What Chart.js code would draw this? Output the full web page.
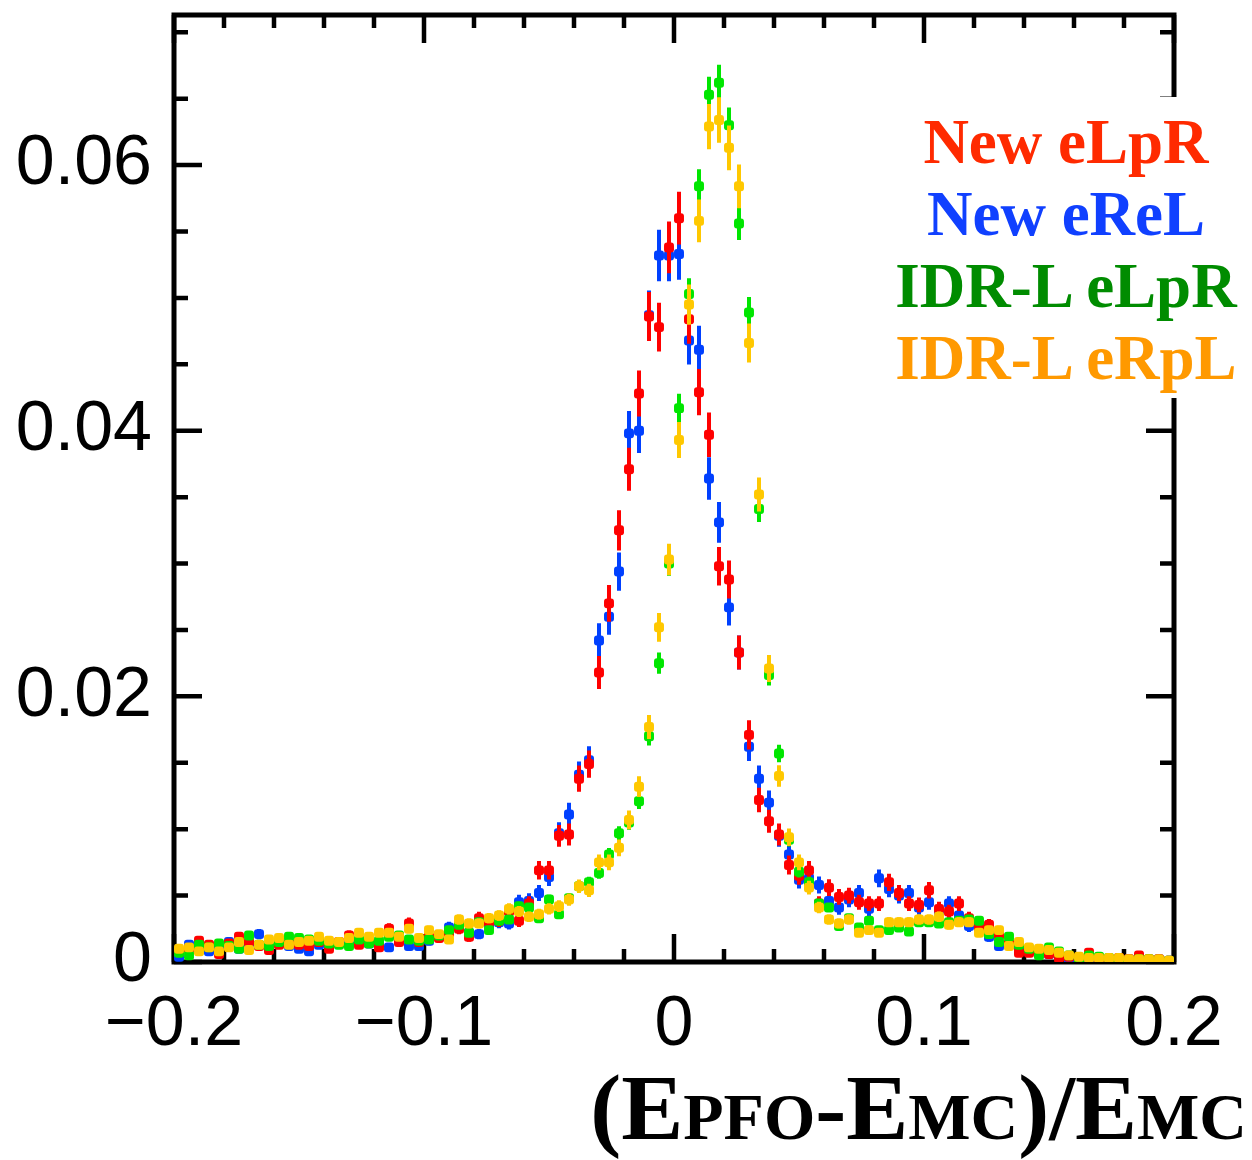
<!DOCTYPE html>
<html>
<head>
<meta charset="utf-8">
<script src="https://cdn.jsdelivr.net/npm/chart.js@4.4.1/dist/chart.umd.min.js"></script>
<style>
html,body{margin:0;padding:0;background:#fff;}
#wrap{position:relative;width:1252px;height:1160px;overflow:hidden;}
#legend{position:absolute;left:880px;top:97px;width:372px;height:301px;background:#fff;text-align:center;
  font-family:'Liberation Serif','Times New Roman',serif;font-weight:bold;font-size:63px;line-height:72px;
  padding-top:9px;box-sizing:border-box;white-space:nowrap;}
#xtitle{position:absolute;right:5px;top:1061px;font-family:'Liberation Serif','Times New Roman',serif;
  font-weight:bold;font-size:93px;line-height:93px;white-space:nowrap;color:#000;}
#xtitle .s{font-size:66px;}
</style>
</head>
<body>
<div id="wrap">
<canvas id="c" width="1252" height="1160"></canvas>
<div id="legend"></div>
<div id="xtitle">(E<span class="s">PFO</span>-E<span class="s">MC</span>)/E<span class="s">MC</span></div>
</div>
<script>
// ---- data ----
const binCenters = [
-0.198,-0.194,-0.190,-0.186,-0.182,-0.178,-0.174,-0.170,-0.166,-0.162,
-0.158,-0.154,-0.150,-0.146,-0.142,-0.138,-0.134,-0.130,-0.126,-0.122,
-0.118,-0.114,-0.110,-0.106,-0.102,-0.098,-0.094,-0.090,-0.086,-0.082,
-0.078,-0.074,-0.070,-0.066,-0.062,-0.058,-0.054,-0.050,-0.046,-0.042,
-0.038,-0.034,-0.030,-0.026,-0.022,-0.018,-0.014,-0.010,-0.006,-0.002,
0.002,0.006,0.010,0.014,0.018,0.022,0.026,0.030,0.034,0.038,
0.042,0.046,0.050,0.054,0.058,0.062,0.066,0.070,0.074,0.078,
0.082,0.086,0.090,0.094,0.098,0.102,0.106,0.110,0.114,0.118,
0.122,0.126,0.130,0.134,0.138,0.142,0.146,0.150,0.154,0.158,
0.162,0.166,0.170,0.174,0.178,0.182,0.186,0.190,0.194,0.198];

const newELpR = [
0.0008,0.0010,0.0016,0.0013,0.0006,0.0014,0.0019,0.0015,0.0012,0.0009,
0.0013,0.0014,0.0013,0.0012,0.0015,0.0010,0.0015,0.0020,0.0013,0.0015,
0.0011,0.0025,0.0015,0.0029,0.0015,0.0019,0.0018,0.0022,0.0025,0.0019,
0.0033,0.0030,0.0031,0.0038,0.0031,0.0044,0.0069,0.0069,0.0095,0.0096,
0.0138,0.0149,0.0218,0.0270,0.0325,0.0371,0.0428,0.0486,0.0478,0.0538,
0.0560,0.0484,0.0429,0.0397,0.0298,0.0288,0.0233,0.0171,0.0122,0.0106,
0.0096,0.0073,0.0065,0.0069,0.0044,0.0056,0.0049,0.0050,0.0045,0.0044,
0.0044,0.0060,0.0052,0.0044,0.0043,0.0054,0.0040,0.0038,0.0044,0.0033,
0.0026,0.0028,0.0020,0.0014,0.0007,0.0007,0.0008,0.0006,0.0003,0.0004,
0.0003,0.0007,0.0003,0.0002,0.0003,0.0002,0.0005,0.0002,0.0002,0.0001];

const newEReL = [
0.0004,0.0013,0.0010,0.0008,0.0010,0.0015,0.0010,0.0014,0.0021,0.0011,
0.0014,0.0012,0.0010,0.0008,0.0013,0.0012,0.0014,0.0014,0.0015,0.0014,
0.0014,0.0011,0.0016,0.0012,0.0012,0.0016,0.0019,0.0026,0.0028,0.0022,
0.0021,0.0027,0.0030,0.0029,0.0045,0.0046,0.0052,0.0064,0.0097,0.0111,
0.0141,0.0152,0.0242,0.0260,0.0294,0.0398,0.0400,0.0487,0.0532,0.0532,
0.0533,0.0468,0.0461,0.0364,0.0331,0.0267,0.0233,0.0162,0.0138,0.0120,
0.0095,0.0081,0.0062,0.0063,0.0058,0.0046,0.0041,0.0047,0.0052,0.0040,
0.0063,0.0055,0.0050,0.0052,0.0041,0.0045,0.0038,0.0044,0.0035,0.0027,
0.0027,0.0019,0.0012,0.0013,0.0009,0.0008,0.0007,0.0006,0.0005,0.0002,
0.0003,0.0003,0.0003,0.0002,0.0001,0.0002,0.0002,0.0001,0.0002,0.0001];

const idrELpR = [
0.0007,0.0005,0.0013,0.0011,0.0014,0.0012,0.0010,0.0020,0.0013,0.0012,
0.0015,0.0019,0.0018,0.0017,0.0016,0.0014,0.0013,0.0012,0.0017,0.0014,
0.0016,0.0019,0.0020,0.0017,0.0016,0.0017,0.0020,0.0024,0.0028,0.0022,
0.0030,0.0024,0.0031,0.0032,0.0042,0.0041,0.0033,0.0047,0.0036,0.0048,
0.0057,0.0060,0.0067,0.0081,0.0097,0.0105,0.0121,0.0170,0.0225,0.0300,
0.0417,0.0503,0.0584,0.0653,0.0662,0.0630,0.0556,0.0489,0.0341,0.0216,
0.0157,0.0092,0.0068,0.0060,0.0044,0.0041,0.0027,0.0033,0.0026,0.0031,
0.0024,0.0024,0.0026,0.0023,0.0030,0.0030,0.0029,0.0030,0.0031,0.0032,
0.0031,0.0021,0.0015,0.0019,0.0013,0.0010,0.0005,0.0011,0.0008,0.0005,
0.0002,0.0005,0.0004,0.0003,0.0002,0.0001,0.0002,0.0002,0.0001,0.0001];

const idrERpL = [
0.0010,0.0011,0.0008,0.0011,0.0008,0.0011,0.0015,0.0009,0.0013,0.0017,
0.0018,0.0013,0.0015,0.0016,0.0019,0.0016,0.0015,0.0018,0.0022,0.0019,
0.0022,0.0022,0.0019,0.0025,0.0018,0.0024,0.0021,0.0017,0.0032,0.0029,
0.0029,0.0033,0.0035,0.0040,0.0038,0.0034,0.0036,0.0040,0.0042,0.0047,
0.0057,0.0054,0.0075,0.0075,0.0086,0.0107,0.0132,0.0177,0.0252,0.0303,
0.0393,0.0495,0.0558,0.0629,0.0634,0.0613,0.0584,0.0466,0.0352,0.0221,
0.0140,0.0094,0.0075,0.0056,0.0041,0.0032,0.0029,0.0032,0.0022,0.0024,
0.0022,0.0030,0.0030,0.0030,0.0032,0.0032,0.0034,0.0028,0.0030,0.0030,
0.0022,0.0024,0.0024,0.0012,0.0015,0.0011,0.0010,0.0009,0.0007,0.0005,
0.0004,0.0003,0.0003,0.0003,0.0003,0.0002,0.0002,0.0002,0.0002,0.0001];

// statistical error scale per series (error = scale * sqrt(content))
const errScale = {newELpR:0.0084, newEReL:0.0084, idrELpR:0.0053, idrERpL:0.0068};

const seriesNames = ['New eLpR','New eReL','IDR-L eLpR','IDR-L eRpL'];
const markerColors = ['#ff0000','#0040ff','#00e600','#ffc800'];
const legendColors = ['#ff2a00','#1040ff','#008c00','#ff9900'];

const xTickValues = [-0.2,-0.1,0,0.1,0.2];
const xTickLabels = ['\u22120.2','\u22120.1','0','0.1','0.2'];
const yTickValues = [0,0.02,0.04,0.06];
const yTickLabels = ['0','0.02','0.04','0.06'];
const xRange = [-0.2,0.2];
const yRange = [0,0.0713];

// ---- legend (real text) ----
const lg = document.getElementById('legend');
seriesNames.forEach((n,i)=>{const d=document.createElement('div');d.textContent=n;d.style.color=legendColors[i];lg.appendChild(d);});

// ---- datasets ----
const seriesValues = [newELpR,newEReL,idrELpR,idrERpL];
const seriesKeys = ['newELpR','newEReL','idrELpR','idrERpL'];
const drawOrder = [3,4,2,1]; // blue drawn first, yellow on top
const datasets = seriesValues.map((vals,k)=>({
  label: seriesNames[k],
  data: vals.map((v,i)=>({x:binCenters[i], y:v})),
  errors: vals.map(v=>errScale[seriesKeys[k]]*Math.sqrt(v)),
  backgroundColor: markerColors[k],
  borderColor: markerColors[k],
  borderWidth: 0,
  pointRadius: 5.8,
  pointHoverRadius: 5.8,
  pointStyle: 'rectRounded',
  showLine: false,
  order: drawOrder[k]
}));

const framePlugin = {
  id:'frame',
  beforeDatasetsDraw(chart){
    const {ctx, chartArea:a, scales:{x,y}} = chart;
    ctx.save();
    ctx.strokeStyle='#000';
    ctx.lineWidth=4.5;
    ctx.beginPath();
    for(let k=0;k<=20;k++){
      const v=xRange[0]+k*0.02, px=x.getPixelForValue(v), L=(k%5===0)?28:13;
      ctx.moveTo(px,a.bottom); ctx.lineTo(px,a.bottom-L);
      ctx.moveTo(px,a.top); ctx.lineTo(px,a.top+L);
    }
    for(let k=0;k*0.005<=yRange[1]+1e-9;k++){
      const v=k*0.005, py=y.getPixelForValue(v), L=(k%4===0)?28:14;
      ctx.moveTo(a.left,py); ctx.lineTo(a.left+L,py);
      ctx.moveTo(a.right,py); ctx.lineTo(a.right-L,py);
    }
    ctx.stroke();
    ctx.lineWidth=5;
    ctx.strokeRect(a.left,a.top,a.right-a.left,a.bottom-a.top);
    ctx.restore();
  }
};

const errorBarPlugin = {
  id:'errbars',
  beforeDatasetDraw(chart,args){
    const ds=chart.data.datasets[args.index];
    const y=chart.scales.y, a=chart.chartArea, ctx=chart.ctx;
    ctx.save();
    ctx.beginPath(); ctx.rect(a.left,a.top,a.right-a.left,a.bottom-a.top); ctx.clip();
    ctx.strokeStyle=ds.backgroundColor; ctx.lineWidth=4; ctx.lineCap='butt';
    ctx.beginPath();
    args.meta.data.forEach((pt,i)=>{
      const v=ds.data[i].y, e=ds.errors[i];
      ctx.moveTo(pt.x,y.getPixelForValue(v-e));
      ctx.lineTo(pt.x,y.getPixelForValue(v+e));
    });
    ctx.stroke();
    ctx.restore();
  }
};

const tickFont = {family:"'Liberation Sans', Arial, Helvetica, sans-serif", size:70};

new Chart(document.getElementById('c'),{
  type:'scatter',
  data:{datasets},
  plugins:[framePlugin,errorBarPlugin],
  options:{
    responsive:false, animation:false, devicePixelRatio:1,
    layout:{padding:{top:15,right:78,left:0,bottom:0}},
    plugins:{legend:{display:false},tooltip:{enabled:false}},
    events:[],
    scales:{
      x:{type:'linear',min:xRange[0],max:xRange[1],
        grid:{display:false,drawTicks:false},border:{display:false},
        afterBuildTicks:s=>{s.ticks=xTickValues.map(v=>({value:v}));},
        ticks:{autoSkip:false,maxRotation:0,padding:22,color:'#000',font:tickFont,
          callback:(v,i)=>xTickLabels[i]},
        afterFit:s=>{s.height=198; s.paddingLeft=0; s.paddingRight=0;}
      },
      y:{type:'linear',min:yRange[0],max:yRange[1],
        grid:{display:false,drawTicks:false},border:{display:false},
        afterBuildTicks:s=>{s.ticks=yTickValues.map(v=>({value:v}));},
        ticks:{autoSkip:false,padding:22,color:'#000',font:tickFont,
          callback:(v,i)=>yTickLabels[i]},
        afterFit:s=>{s.width=174; s.paddingTop=0; s.paddingBottom=0;}
      }
    }
  }
});
</script>
</body>
</html>
